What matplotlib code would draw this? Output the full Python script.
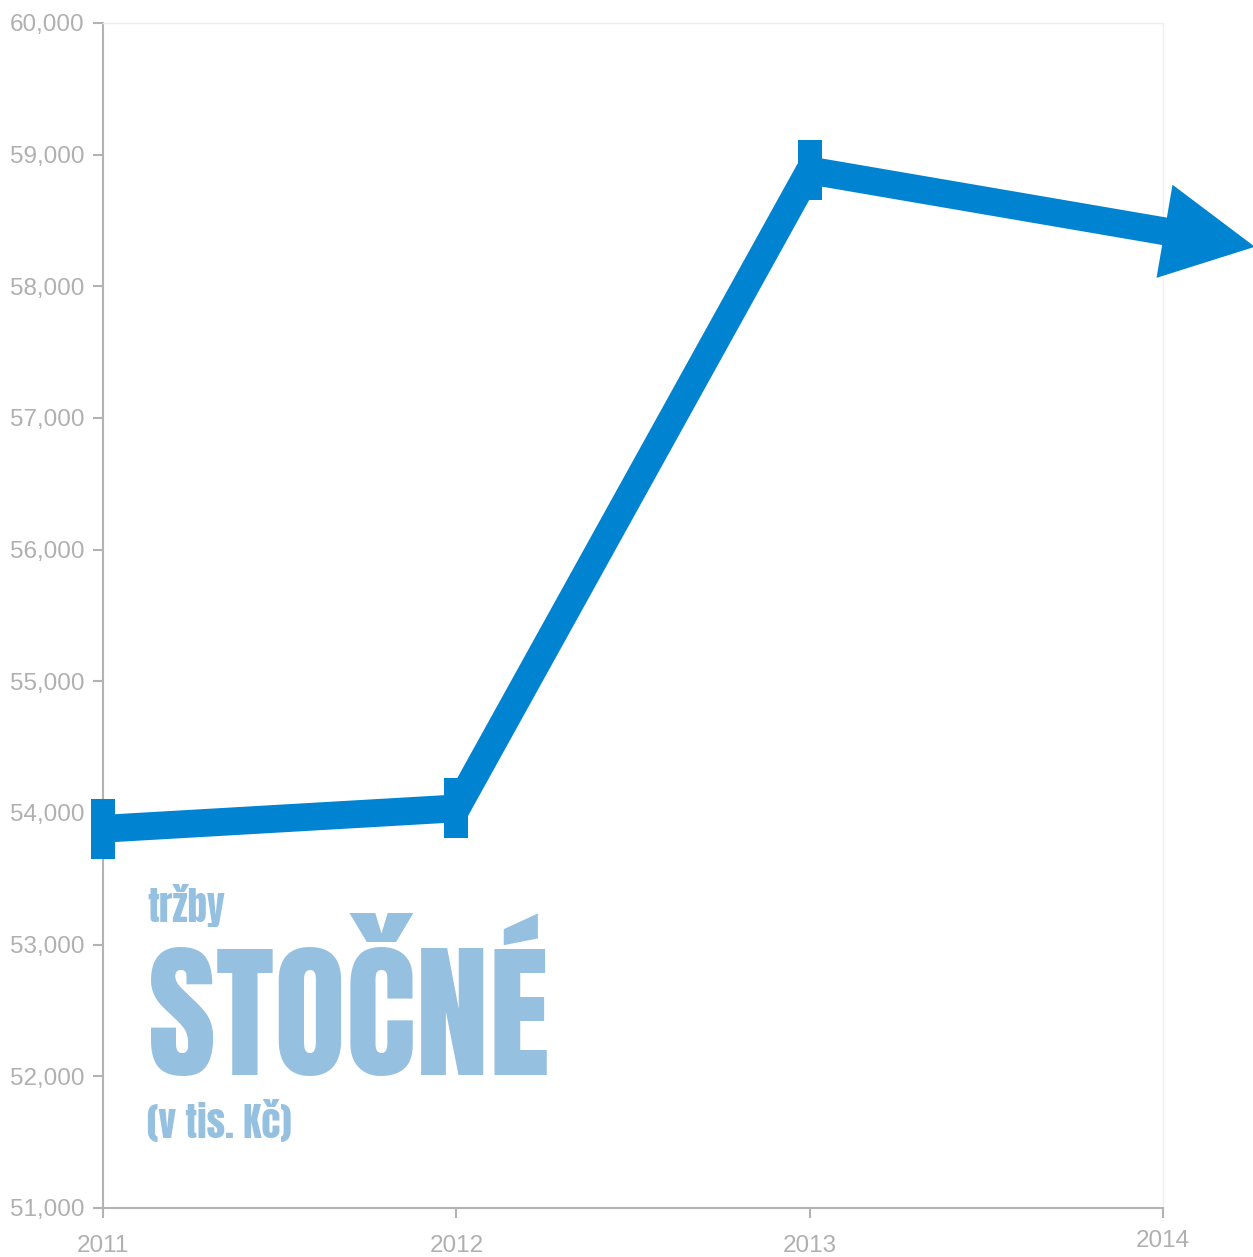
import matplotlib
matplotlib.use("Agg")
import matplotlib.pyplot as plt
from matplotlib.patches import FancyArrowPatch, ArrowStyle
from matplotlib.path import Path
from matplotlib.ticker import FuncFormatter
import matplotlib.transforms as mtransforms

years = [2011, 2012, 2013, 2014]
revenue = [53880, 54035, 58880, 58420]
y_ticks = [51000, 52000, 53000, 54000, 55000, 56000, 57000, 58000, 59000, 60000]
x_ticks = [2011, 2012, 2013, 2014]

LINE = "#0083d1"
TITLE = "#95c0e0"
GREY = "#b3b3b3"
LABEL = "#b0b0b0"

fig = plt.figure(figsize=(12.53, 12.57), dpi=100)
W, H = 1253, 1257
ax = fig.add_axes([103 / W, 1 - 1208 / H, (1163 - 103) / W, (1208 - 23) / H])

rect = Path([(-0.195, -0.5), (0.195, -0.5), (0.195, 0.5), (-0.195, 0.5), (-0.195, -0.5)],
            [Path.MOVETO, Path.LINETO, Path.LINETO, Path.LINETO, Path.CLOSEPOLY])

ax.plot(years[:3], revenue[:3], color=LINE, lw=20, solid_joinstyle="miter",
        solid_capstyle="butt", marker=rect, markersize=42.5, markeredgewidth=0,
        markerfacecolor=LINE, clip_on=False, zorder=3)

# arrow from 2013 through 2014 point, extended past the axes edge
ext = 0.26
tip = (years[3] + (years[3] - years[2]) * ext, revenue[3] + (revenue[3] - revenue[2]) * ext)
arrow = FancyArrowPatch((years[2], revenue[2]), tip,
                        arrowstyle=ArrowStyle.Simple(head_length=66, head_width=68, tail_width=20),
                        mutation_scale=1, color=LINE, lw=0, clip_on=False, zorder=3,
                        shrinkA=0, shrinkB=0)
ax.add_patch(arrow)
ax.plot([years[2]], [revenue[2]], marker=rect, markersize=42.5, markeredgewidth=0,
        color=LINE, clip_on=False, zorder=4, linestyle="none")

ax.set_xlim(2011, 2014)
ax.set_ylim(51000, 60000)
ax.set_xticks(x_ticks)
ax.set_yticks(y_ticks)
ax.yaxis.set_major_formatter(FuncFormatter(lambda v, p: f"{int(v):,}"))

for s in ["left", "bottom"]:
    ax.spines[s].set_color(GREY)
    ax.spines[s].set_linewidth(1.5)
for s in ["top", "right"]:
    ax.spines[s].set_color("#eeeeee")
    ax.spines[s].set_linewidth(1)

ax.tick_params(axis="both", direction="out", length=7.2, width=1.5, color=GREY,
               labelcolor=LABEL, labelsize=17.5)
ax.tick_params(axis="y", pad=6)
ax.tick_params(axis="x", pad=12.5)
for lab in ax.get_yticklabels() + ax.get_xticklabels():
    lab.set_fontfamily("Liberation Sans")

fig.canvas.draw()
xl = ax.get_xticklabels()
xl[-1].set_transform(xl[-1].get_transform() + mtransforms.ScaledTranslation(0, 5 / 100, fig.dpi_scale_trans))

fam = ["Anton", "DejaVu Sans"]
fig.text(147 / W, 1 - 922 / H, "tržby", color=TITLE, fontsize=28,
         family=fam, ha="left", va="baseline")
fig.text(148 / W, 1 - 1075 / H, "STOČNÉ", color=TITLE, fontsize=106,
         family=fam, ha="left", va="baseline")
fig.text(147 / W, 1 - 1138 / H, "(v tis. Kč)", color=TITLE, fontsize=28,
         family=fam, ha="left", va="baseline")

fig.savefig("out.png", dpi=100)
